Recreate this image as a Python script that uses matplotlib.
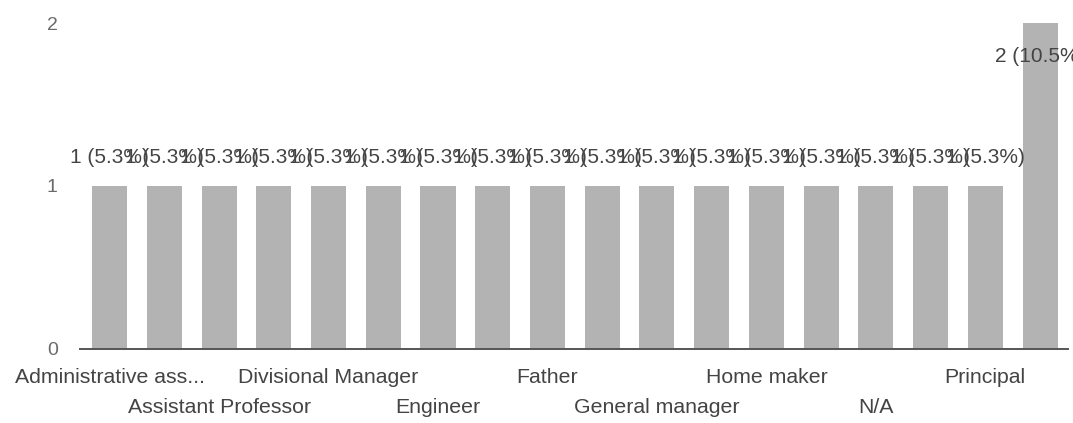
import matplotlib
matplotlib.use("Agg")
import matplotlib.pyplot as plt

categories = [
    "Administrative ass...", "Advocate", "Assistant Professor", "Business",
    "Divisional Manager", "Doctor", "Engineer", "Entrepreneur",
    "Father", "Freelancer", "General manager", "Government employee",
    "Home maker", "Manager", "N/A", "Officer", "Principal", "Teacher",
]
counts = [1, 1, 1, 1, 1, 1, 1, 1, 1, 1, 1, 1, 1, 1, 1, 1, 1, 2]
total = sum(counts)
value_labels = [f"{c} ({c / total * 100:.1f}%)" for c in counts]
y_ticks = [0, 1, 2]

plt.rcParams['font.family'] = ['Liberation Sans', 'DejaVu Sans']
text_color = "#444444"

fig = plt.figure(figsize=(10.73, 4.23), dpi=100)
ax = fig.add_axes([0.0746, 0.175, 0.9953 - 0.0746, 0.9456 - 0.175])

x = list(range(len(categories)))
ax.bar(x, counts, width=0.64, color="#b3b3b3", zorder=2)

ax.set_xlim(-0.54, len(categories) - 1 + 0.51)
ax.set_ylim(0, 2)
ax.set_yticks(y_ticks)
ax.set_yticklabels([str(t) for t in y_ticks], fontsize=14, color="#6a6a6a")
ax.tick_params(axis='y', length=0, pad=16)

ax.set_xticks(x)
ax.set_xticklabels([""] * len(categories))
ax.tick_params(axis='x', length=0)
for i, name in enumerate(categories):
    if i % 2 == 0:
        row = (i // 2) % 2
        ax.annotate(name, xy=(i, 0), xycoords='data',
                    xytext=(0, -13.5 - row * 21.5), textcoords='offset points',
                    ha='center', va='top', fontsize=15.3, color=text_color,
                    annotation_clip=False)

for spine in ["top", "right", "left"]:
    ax.spines[spine].set_visible(False)
ax.spines["bottom"].set_color("#555555")
ax.spines["bottom"].set_linewidth(1.4)
ax.spines["bottom"].set_zorder(3)

for i, (c, lab) in enumerate(zip(counts, value_labels)):
    if c >= max(counts):
        ax.annotate(lab, xy=(i, c), xytext=(0, -17), textcoords='offset points',
                    ha='center', va='top', fontsize=15, color=text_color,
                    annotation_clip=False, zorder=4)
    else:
        ax.annotate(lab, xy=(i, c), xytext=(0, 14), textcoords='offset points',
                    ha='center', va='bottom', fontsize=15, color=text_color,
                    annotation_clip=False, zorder=4)

fig.savefig("out.png", dpi=100)
